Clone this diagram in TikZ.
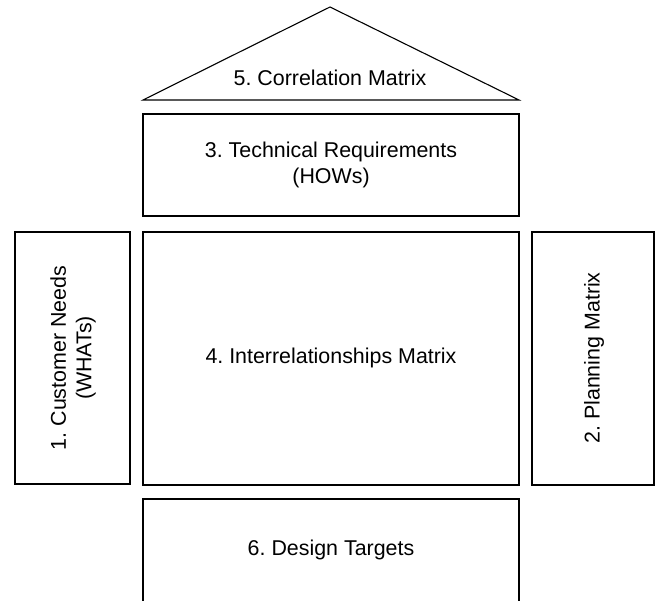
\documentclass[tikz,border=0pt]{standalone}
\usepackage{fontspec}
\setmainfont{Liberation Sans}
\frenchspacing
\begin{document}
\begin{tikzpicture}[x=1pt,y=-1pt,
  part/.style={draw=black,line width=1.1pt},
  lbl/.style={font=\fontsize{21.4}{25.5}\selectfont,align=center,inner sep=0pt}]
\useasboundingbox (0,0) rectangle (655,601);
% 5. Correlation Matrix (roof)
\draw[part] (143,100) -- (330,7) -- (519,100) -- cycle;
\node[lbl] (corr) at (330,78) {5. Correlation Matrix};
% 3. Technical Requirements
\draw[part] (143,114) rectangle (519,216);
\node[lbl] (tech) at (331,165) {3. Technical Requirements\\(HOWs)};
% 1. Customer Needs
\draw[part] (15,232) rectangle (130,484);
\node[lbl,rotate=90] (cust) at (73,358) {1. Customer Needs\\(WHATs)};
% 4. Interrelationships Matrix
\draw[part] (143,232) rectangle (519,485);
\node[lbl] (inter) at (331,358) {4. Interrelationships Matrix};
% 2. Planning Matrix
\draw[part] (532,232) rectangle (654,485);
\node[lbl,rotate=90] (plan) at (594,358) {2. Planning Matrix};
% 6. Design Targets (open at bottom)
\draw[part] (143,601) -- (143,499) -- (519,499) -- (519,601);
\node[lbl] (design) at (331,550) {6. Design Targets};
\end{tikzpicture}
\end{document}
